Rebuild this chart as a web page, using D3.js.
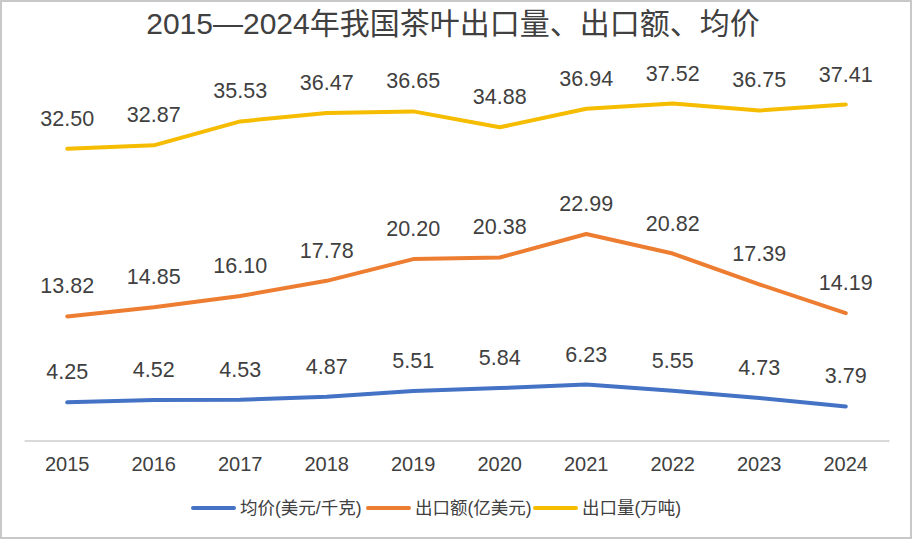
<!DOCTYPE html>
<html><head><meta charset="utf-8">
<script src="https://cdn.jsdelivr.net/npm/d3@7"></script>
<style>
html,body{margin:0;padding:0;background:#fff;}
svg text{font-family:"Liberation Sans","Noto Sans CJK SC",sans-serif;fill:#404040;}
</style></head>
<body>
<svg id="c" width="913" height="541"></svg>
<script>
const title = "2015—2024年我国茶叶出口量、出口额、均价";
const years = ["2015","2016","2017","2018","2019","2020","2021","2022","2023","2024"];
const avgPrice = [4.25,4.52,4.53,4.87,5.51,5.84,6.23,5.55,4.73,3.79];
const exportValue = [13.82,14.85,16.10,17.78,20.20,20.38,22.99,20.82,17.39,14.19];
const exportVolume = [32.50,32.87,35.53,36.47,36.65,34.88,36.94,37.52,36.75,37.41];
const seriesNames = ["均价(美元/千克)","出口额(亿美元)","出口量(万吨)"];
const seriesColors = ["#4472C4","#ED7D31","#F5BC00"];

const series = [avgPrice, exportValue, exportVolume].map((v,i)=>({name:seriesNames[i],color:seriesColors[i],values:v}));

const svg = d3.select("#c");
svg.append("rect").attr("x",1).attr("y",1).attr("width",910).attr("height",537)
  .attr("fill","#fff").attr("stroke","#c8c8c8").attr("stroke-width",2);

svg.append("text").attr("x",453).attr("y",34).attr("text-anchor","middle")
  .style("font-size","30px").text(title);

const x = d3.scaleBand().domain(years).range([24,889]);
const y = d3.scaleLinear().domain([0,40]).range([440.5,81.3]);

// x axis
const xAxis = d3.axisBottom(x).tickSize(0).tickPadding(0);
const gx = svg.append("g").attr("transform","translate(0,440.5)").call(xAxis);
gx.select(".domain").attr("stroke","#d9d9d9").attr("stroke-width",2);
gx.selectAll("text").attr("y",30).attr("dy",null).style("font-size","20px").attr("fill","#404040");

const line = d3.line().x((d,i)=>x(years[i])+x.bandwidth()/2).y(d=>y(d));

series.forEach(s=>{
  svg.append("path").datum(s.values).attr("d",line).attr("fill","none")
    .attr("stroke",s.color).attr("stroke-width",4).attr("stroke-linecap","round").attr("stroke-linejoin","round");
  svg.append("g").selectAll("text").data(s.values).join("text")
    .attr("x",(d,i)=>x(years[i])+x.bandwidth()/2)
    .attr("y",d=>y(d)-23)
    .attr("text-anchor","middle").style("font-size","21.5px")
    .text(d=>d.toFixed(2));
});

// legend
const legendX = [193,368,535];
const lg = svg.append("g");
series.forEach((s,i)=>{
  lg.append("line").attr("x1",legendX[i]).attr("x2",legendX[i]+41).attr("y1",508).attr("y2",508)
    .attr("stroke",s.color).attr("stroke-width",4).attr("stroke-linecap","round");
  lg.append("text").attr("x",legendX[i]+47).attr("y",514).style("font-size","17.5px").text(s.name);
});
</script>
</body></html>
